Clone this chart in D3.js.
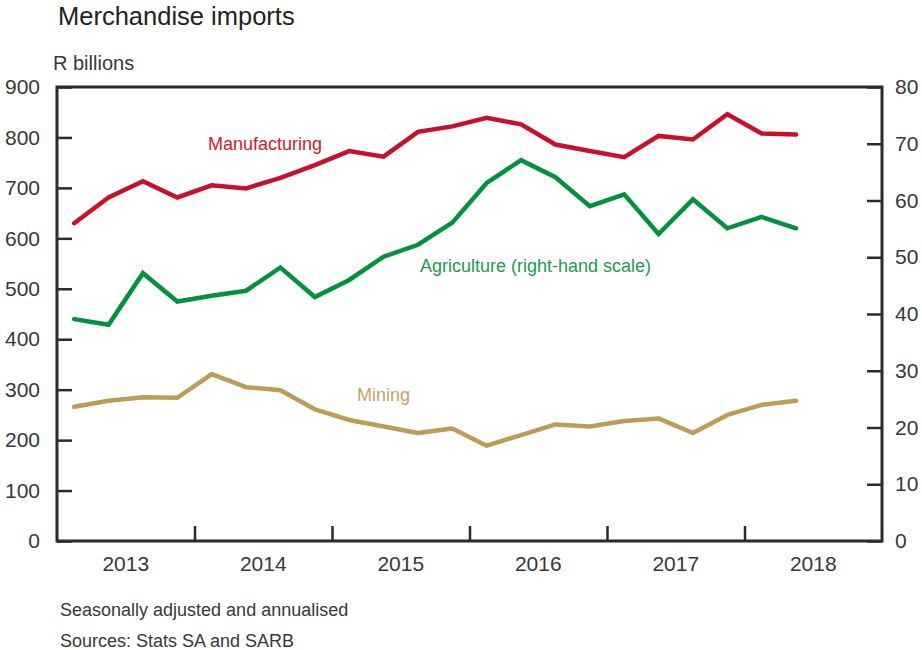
<!DOCTYPE html>
<html>
<head>
<meta charset="utf-8">
<script src="https://cdn.jsdelivr.net/npm/d3@7"></script>
<style>
  html, body { margin: 0; padding: 0; background: #fff; }
  text { font-family: "Liberation Sans", Arial, sans-serif; }
</style>
</head>
<body>
<svg id="chart" width="922" height="650"></svg>
<script>
// ---- Data (quarterly, 2013Q1 – 2018Q2) ----
const quarters = [
  "2013Q1","2013Q2","2013Q3","2013Q4",
  "2014Q1","2014Q2","2014Q3","2014Q4",
  "2015Q1","2015Q2","2015Q3","2015Q4",
  "2016Q1","2016Q2","2016Q3","2016Q4",
  "2017Q1","2017Q2","2017Q3","2017Q4",
  "2018Q1","2018Q2"
];
const manufacturing = [630, 681, 713, 681, 705, 699, 720, 745, 773, 762, 811, 822,
                       839, 826, 786, 773, 761, 803, 796, 846, 808, 806];
const mining = [266, 278, 285, 284, 331, 305, 299, 261, 240, 227, 214, 223,
                189, 210, 231, 227, 238, 243, 214, 250, 270, 278];
const agriculture = [39.1, 38.1, 47.2, 42.2, 43.2, 44.1, 48.2, 43.0, 46.0, 50.1, 52.2, 56.1,
                     63.1, 67.1, 64.1, 59.0, 61.1, 54.1, 60.2, 55.1, 57.1, 55.1];
const years = [2013, 2014, 2015, 2016, 2017, 2018];
const leftTicks = [0, 100, 200, 300, 400, 500, 600, 700, 800, 900];
const rightTicks = [0, 10, 20, 30, 40, 50, 60, 70, 80];

// ---- Layout ----
const svg = d3.select("#chart");
const L = 57, R = 882, T = 87, B = 541;
const textCol = "#383838";
const axisCol = "#2b2b2b";
const colMan = "#c8102e", colAgr = "#00923f", colMin = "#bd9c58";

const qPos = q => +q.slice(0, 4) + (+q.slice(5) - 0.5) / 4;
const x = d3.scaleLinear().domain([2013, 2019]).range([L, R]);
const yL = d3.scaleLinear().domain([0, 900]).range([B, T]);
const yR = d3.scaleLinear().domain([0, 80]).range([B, T]);

// Title & unit
svg.append("text").attr("x", 58).attr("y", 25).attr("font-size", 25.5)
  .attr("fill", "#222").text("Merchandise imports");
svg.append("text").attr("x", 53).attr("y", 70).attr("font-size", 20)
  .attr("fill", textCol).text("R billions");

// Axes
const gL = svg.append("g").attr("transform", `translate(${L},0)`)
  .call(d3.axisLeft(yL).tickValues(leftTicks).tickSizeInner(-15).tickSizeOuter(0).tickPadding(17));
const gR = svg.append("g").attr("transform", `translate(${R},0)`)
  .call(d3.axisRight(yR).tickValues(rightTicks).tickSizeInner(-15).tickSizeOuter(0).tickPadding(13));
const gB = svg.append("g").attr("transform", `translate(0,${B})`)
  .call(d3.axisBottom(x).tickValues([2014, 2015, 2016, 2017, 2018]).tickSizeInner(-15).tickSizeOuter(0).tickFormat(""));
[gL, gR, gB].forEach(g => {
  g.selectAll("path.domain").remove();
  g.selectAll(".tick line").attr("stroke", axisCol).attr("stroke-width", 2.5);
  g.selectAll(".tick text").attr("font-size", 21).attr("fill", textCol)
    .attr("font-family", '"Liberation Sans", Arial, sans-serif');
});

// Year labels (centred in each year)
svg.append("g").selectAll("text").data(years).join("text")
  .attr("x", d => x(d + 0.5)).attr("y", 571).attr("text-anchor", "middle")
  .attr("font-size", 21).attr("fill", textCol).text(d => d);

// Frame
svg.append("rect").attr("x", L).attr("y", T).attr("width", R - L).attr("height", B - T)
  .attr("fill", "none").attr("stroke", axisCol).attr("stroke-width", 3);

// Lines
const lineL = d3.line().x((d, i) => x(qPos(quarters[i]))).y(d => yL(d));
const lineR = d3.line().x((d, i) => x(qPos(quarters[i]))).y(d => yR(d));
svg.append("path").datum(mining).attr("d", lineL).attr("fill", "none")
  .attr("stroke", colMin).attr("stroke-width", 4.5).attr("stroke-linejoin", "round").attr("stroke-linecap", "round");
svg.append("path").datum(agriculture).attr("d", lineR).attr("fill", "none")
  .attr("stroke", colAgr).attr("stroke-width", 4.5).attr("stroke-linejoin", "miter").attr("stroke-linecap", "round");
svg.append("path").datum(manufacturing).attr("d", lineL).attr("fill", "none")
  .attr("stroke", colMan).attr("stroke-width", 4.5).attr("stroke-linejoin", "miter").attr("stroke-linecap", "round");

// Series labels
svg.append("text").attr("x", 208).attr("y", 150).attr("font-size", 18)
  .attr("fill", "#d0202f").text("Manufacturing");
svg.append("text").attr("x", 420).attr("y", 272).attr("font-size", 18)
  .attr("fill", "#1e9a52").text("Agriculture (right-hand scale)");
svg.append("text").attr("x", 357).attr("y", 401).attr("font-size", 18)
  .attr("fill", "#c4a462").text("Mining");

// Notes
svg.append("text").attr("x", 60).attr("y", 616).attr("font-size", 18)
  .attr("fill", textCol).text("Seasonally adjusted and annualised");
svg.append("text").attr("x", 60).attr("y", 647).attr("font-size", 18)
  .attr("fill", textCol).text("Sources: Stats SA and SARB");
</script>
</body>
</html>
